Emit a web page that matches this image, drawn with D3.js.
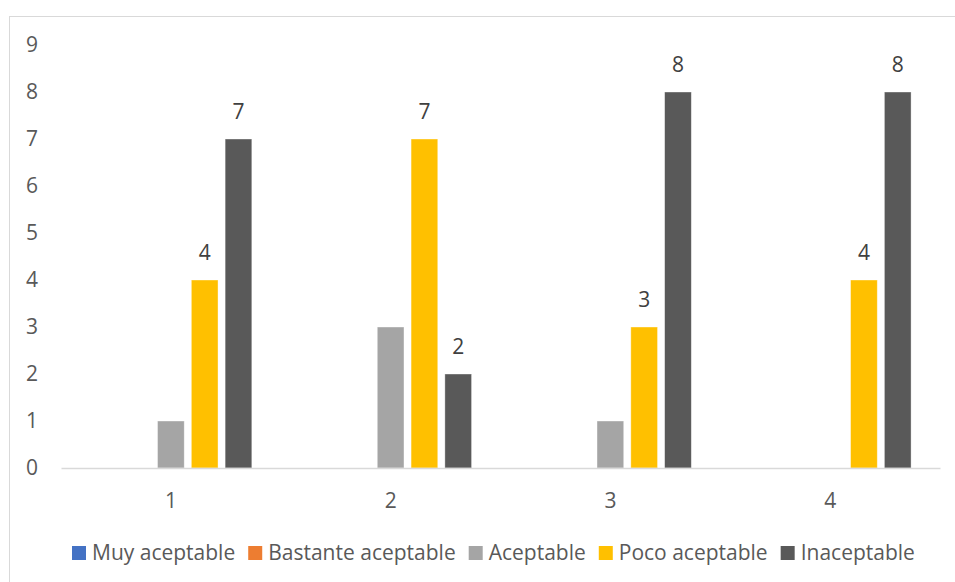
<!DOCTYPE html>
<html>
<head>
<meta charset="utf-8">
<script src="https://cdn.jsdelivr.net/npm/d3@7"></script>
<style>
  body { margin: 0; background: #fff; }
  svg text { font-family: "Open Sans", "Noto Sans", sans-serif; }
</style>
</head>
<body>
<div id="chart"></div>
<script>
const categories = ["1", "2", "3", "4"];
const series = ["Muy aceptable", "Bastante aceptable", "Aceptable", "Poco aceptable", "Inaceptable"];
const colors = ["#4472C4", "#ED7D31", "#A5A5A5", "#FFC000", "#595959"];
// values[series][category]
const values = [
  [0, 0, 0, 0],
  [0, 0, 0, 0],
  [1, 3, 1, 0],
  [4, 7, 3, 4],
  [7, 2, 8, 8]
];
// only these series carry data labels in the original
const labelled = ["Poco aceptable", "Inaceptable"];
const yTicks = [0, 1, 2, 3, 4, 5, 6, 7, 8, 9];

const width = 955, height = 582;
const margin = { top: 45, right: 15, bottom: 114, left: 61 };

const svg = d3.select("#chart")
  .append("svg")
  .attr("width", width)
  .attr("height", height);

// chart area border
svg.append("rect")
  .attr("x", 9.5).attr("y", 16.5)
  .attr("width", 980).attr("height", 600)
  .attr("fill", "none")
  .attr("stroke", "#d9d9d9");

const x0 = d3.scaleBand()
  .domain(categories)
  .range([margin.left, width - margin.right]);

const y = d3.scaleLinear()
  .domain([0, 9])
  .range([height - margin.bottom, height - margin.bottom - 9 * 47]);

const groupWidth = 169;
const x1 = d3.scaleBand()
  .domain(series)
  .range([-groupWidth / 2, groupWidth / 2])
  .paddingInner(0.21)
  .paddingOuter(0.105);

const rows = [];
series.forEach((s, i) => {
  categories.forEach((c, j) => {
    rows.push({ series: s, cat: c, value: values[i][j], color: colors[i] });
  });
});

// bars
svg.append("g")
  .selectAll("rect")
  .data(rows.filter(d => d.value > 0))
  .join("rect")
  .attr("x", d => x0(d.cat) + x0.bandwidth() / 2 + x1(d.series))
  .attr("y", d => y(d.value))
  .attr("width", x1.bandwidth())
  .attr("height", d => y(0) - y(d.value))
  .attr("fill", d => d.color)
  .attr("stroke", "#fff")
  .attr("stroke-opacity", 0.5)
  .attr("stroke-width", 0.75);

// x axis
const xAxis = svg.append("g")
  .attr("transform", `translate(0,${y(0)})`)
  .call(d3.axisBottom(x0).tickSize(0).tickPadding(25));
xAxis.select(".domain").attr("stroke", "#d9d9d9").attr("stroke-width", 1.3);
xAxis.selectAll("text")
  .attr("fill", "#595959")
  .style("font-size", "21px");

// y axis (labels only)
const yAxis = svg.append("g")
  .attr("transform", `translate(38,0)`)
  .call(d3.axisLeft(y).tickValues(yTicks).tickSize(0).tickPadding(0));
yAxis.select(".domain").remove();
yAxis.selectAll("text")
  .attr("fill", "#595959")
  .style("font-size", "21px");

// data labels
svg.append("g")
  .selectAll("text")
  .data(rows.filter(d => labelled.includes(d.series) && d.value > 0))
  .join("text")
  .attr("x", d => x0(d.cat) + x0.bandwidth() / 2 + x1(d.series) + x1.bandwidth() / 2)
  .attr("y", d => y(d.value) - 20)
  .attr("text-anchor", "middle")
  .attr("fill", "#404040")
  .style("font-size", "21px")
  .text(d => d.value);

// legend
const legend = svg.append("g")
  .attr("transform", `translate(72,553)`);
let lx = 0;
series.forEach((s, i) => {
  const item = legend.append("g").attr("transform", `translate(${lx},0)`);
  item.append("rect")
    .attr("x", 0).attr("y", -7)
    .attr("width", 14).attr("height", 14)
    .attr("fill", colors[i]);
  const t = item.append("text")
    .attr("x", 20)
    .attr("dy", "0.35em")
    .attr("fill", "#595959")
    .style("font-size", "21px")
    .text(s);
  lx += 20 + t.node().getComputedTextLength() + 13;
});
</script>
</body>
</html>
